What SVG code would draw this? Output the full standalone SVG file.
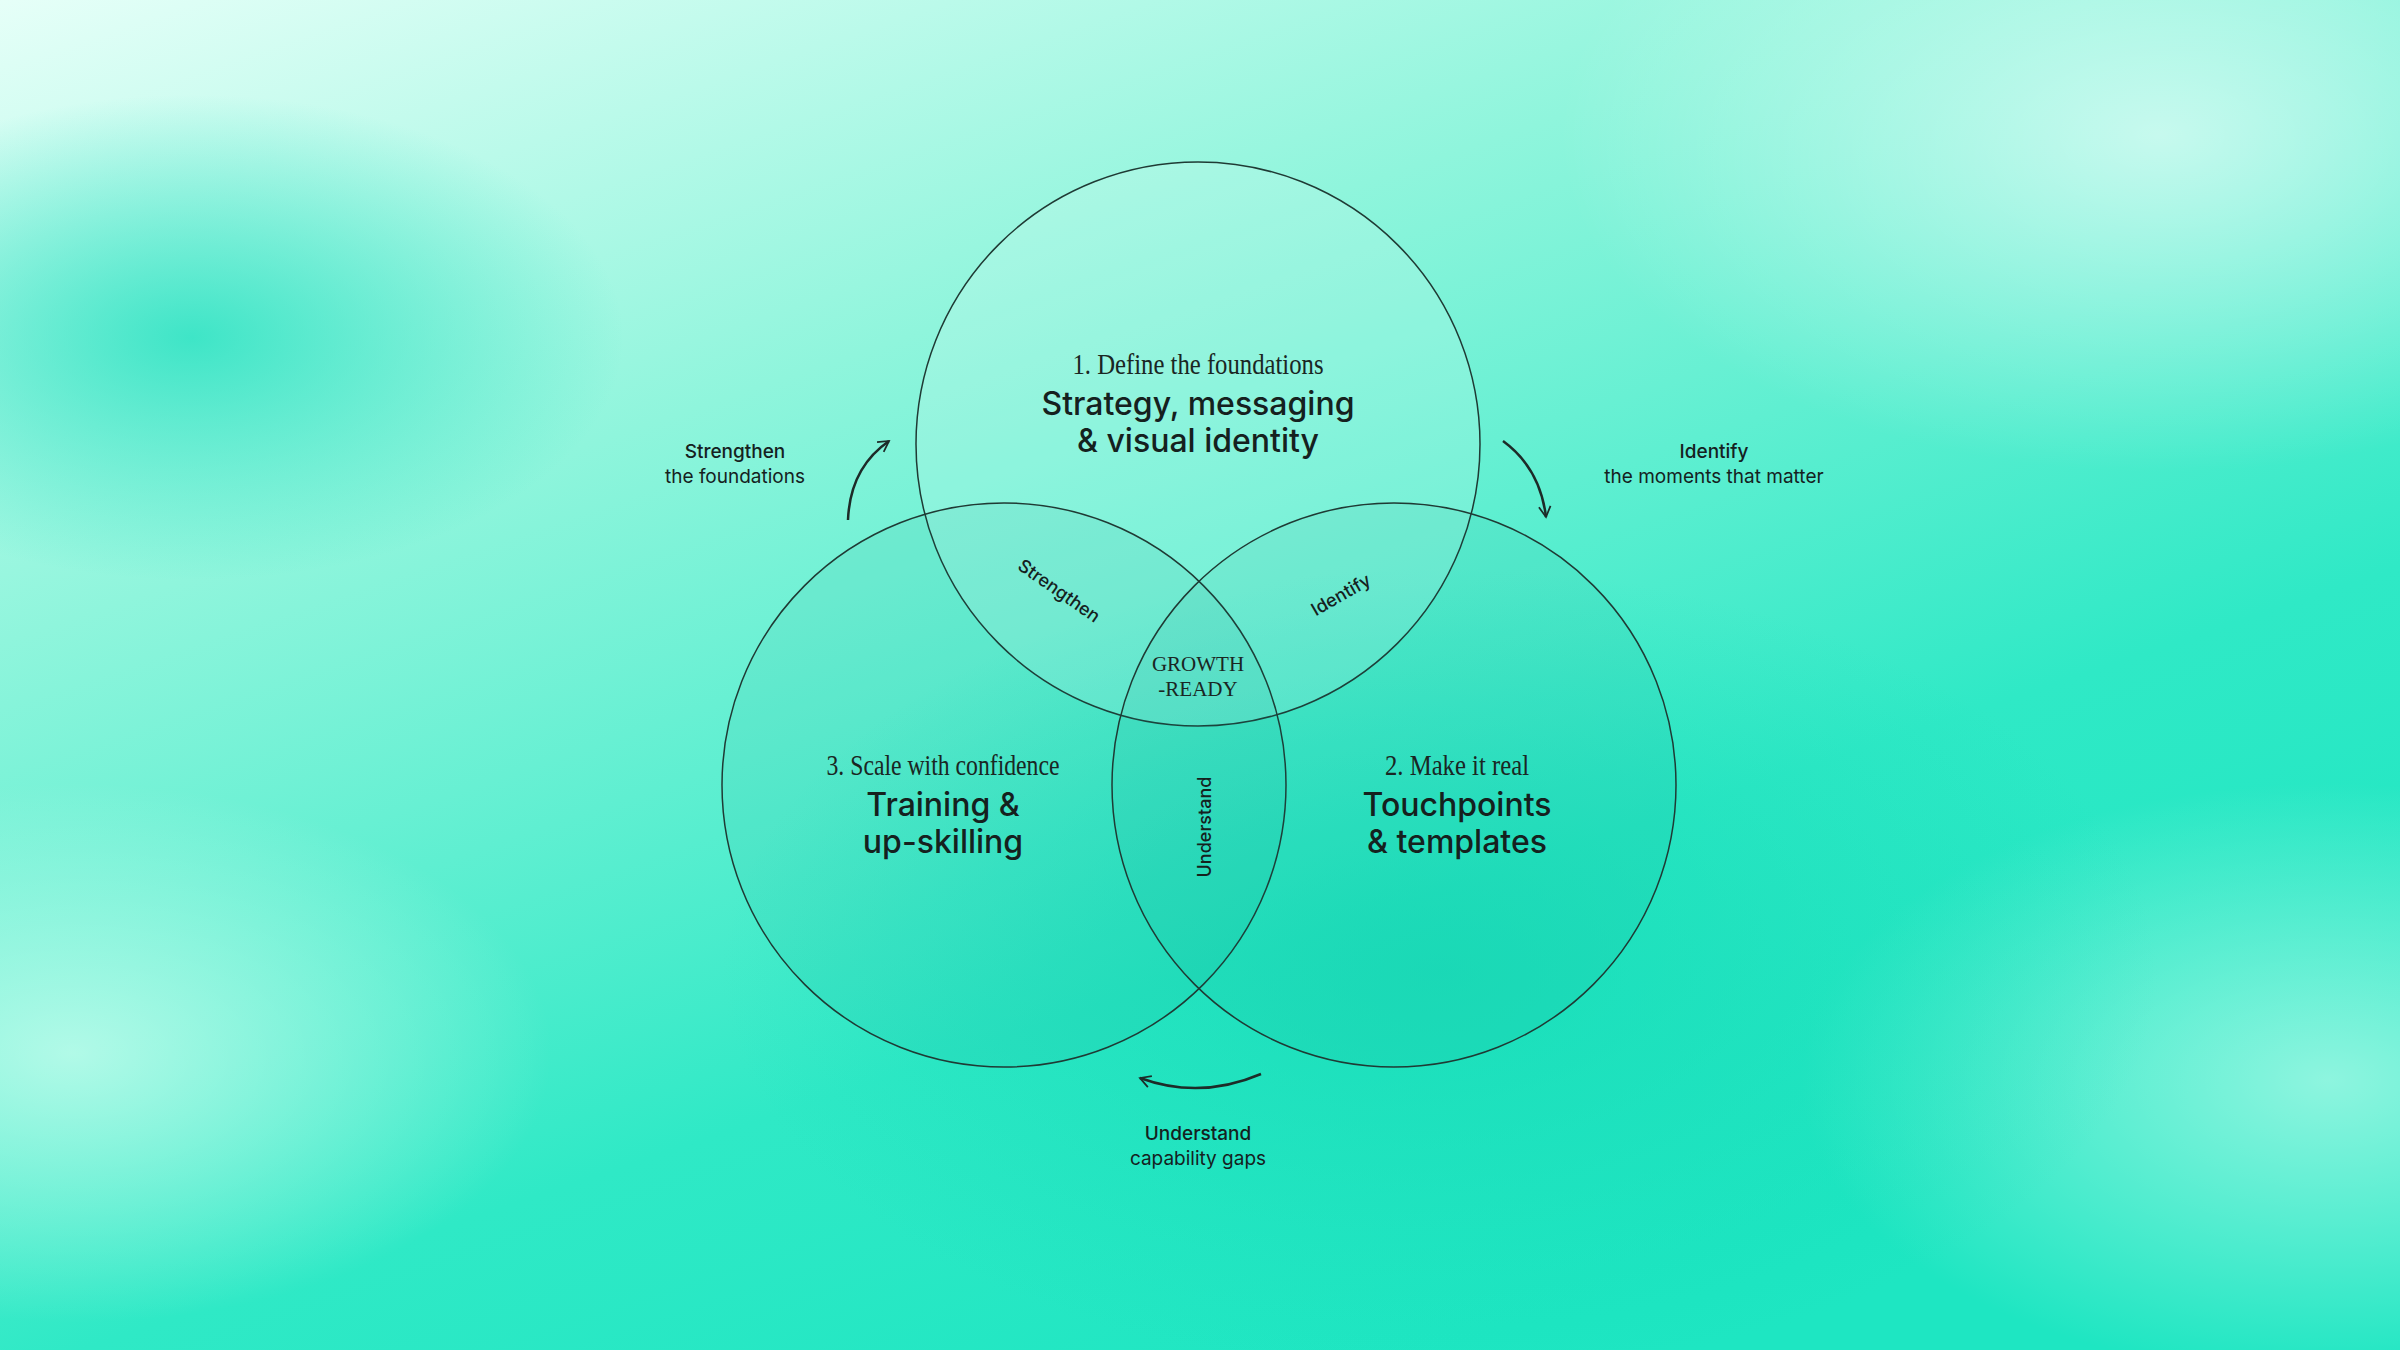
<svg xmlns="http://www.w3.org/2000/svg" width="2400" height="1350" viewBox="0 0 2400 1350">
<defs>
<linearGradient id="bg" x1="0" y1="0" x2="0.6" y2="1">
<stop offset="0" stop-color="#e6fff8"/><stop offset="0.35" stop-color="#8ff5dc"/><stop offset="0.75" stop-color="#2fe9c6"/><stop offset="1" stop-color="#1ee6c2"/>
</linearGradient>
<radialGradient id="g1" cx="0.08" cy="0.25" r="0.18"><stop offset="0" stop-color="#22e0bf" stop-opacity="0.8"/><stop offset="1" stop-color="#22e0bf" stop-opacity="0"/></radialGradient>
<radialGradient id="g2" cx="0.9" cy="0.1" r="0.25"><stop offset="0" stop-color="#ffffff" stop-opacity="0.6"/><stop offset="1" stop-color="#ffffff" stop-opacity="0"/></radialGradient>
<radialGradient id="g3" cx="0.03" cy="0.78" r="0.2"><stop offset="0" stop-color="#d8fff2" stop-opacity="0.7"/><stop offset="1" stop-color="#d8fff2" stop-opacity="0"/></radialGradient>
<radialGradient id="g4" cx="0.97" cy="0.8" r="0.22"><stop offset="0" stop-color="#d8fff2" stop-opacity="0.6"/><stop offset="1" stop-color="#d8fff2" stop-opacity="0"/></radialGradient>
<radialGradient id="g5" cx="0.6" cy="0.72" r="0.3"><stop offset="0" stop-color="#10d8b4" stop-opacity="0.6"/><stop offset="1" stop-color="#10d8b4" stop-opacity="0"/></radialGradient>
<marker id="ah" viewBox="0 0 12 12" refX="10" refY="6" markerWidth="14" markerHeight="14" markerUnits="userSpaceOnUse" orient="auto"><path d="M1,1 L10,6 L1,11" fill="none" stroke="#1d2b28" stroke-width="1.5"/></marker>
<style>
.c{fill:#0a8f7a;fill-opacity:0.07;stroke:#1f3a34;stroke-width:1.5}
.ser{font-family:"Liberation Serif",serif;fill:#1a2623}
.sb{font-family:"Inter","Liberation Sans",sans-serif;font-weight:500;fill:#15211e}
.sm{font-family:"Inter","Liberation Sans",sans-serif;fill:#15211e;font-size:19px}
.smb{font-family:"Inter","Liberation Sans",sans-serif;font-weight:500;fill:#15211e;font-size:18px}
.arr{fill:none;stroke:#1d2b28;stroke-width:2.5;marker-end:url(#ah)}
</style>
</defs>
<rect width="2400" height="1350" fill="url(#bg)"/>
<rect width="2400" height="1350" fill="url(#g1)"/>
<rect width="2400" height="1350" fill="url(#g2)"/>
<rect width="2400" height="1350" fill="url(#g3)"/>
<rect width="2400" height="1350" fill="url(#g4)"/>
<rect width="2400" height="1350" fill="url(#g5)"/>
<g id="top"><circle class="c" cx="1198" cy="444" r="282" style="fill:#ffffff;fill-opacity:0.15"/>
<text class="ser" x="1198" y="374" font-size="30" text-anchor="middle" textLength="251" lengthAdjust="spacingAndGlyphs">1.  Define the foundations</text>
<text class="sb" x="1198" y="415" font-size="32" text-anchor="middle">Strategy, messaging</text>
<text class="sb" x="1198" y="452" font-size="32" text-anchor="middle">&amp; visual identity</text></g>
<g id="left"><circle class="c" cx="1004" cy="785" r="282"/>
<text class="ser" x="943" y="775" font-size="30" text-anchor="middle" textLength="233" lengthAdjust="spacingAndGlyphs">3. Scale with confidence</text>
<text class="sb" x="943" y="816" font-size="32" text-anchor="middle">Training &amp;</text>
<text class="sb" x="943" y="853" font-size="32" text-anchor="middle">up-skilling</text></g>
<g id="right"><circle class="c" cx="1394" cy="785" r="282"/>
<text class="ser" x="1457" y="775" font-size="30" text-anchor="middle" textLength="144" lengthAdjust="spacingAndGlyphs">2. Make it real</text>
<text class="sb" x="1457" y="816" font-size="32" text-anchor="middle">Touchpoints</text>
<text class="sb" x="1457" y="853" font-size="32" text-anchor="middle">&amp; templates</text></g>
<g id="center">
<text class="ser" x="1198" y="671" font-size="21" text-anchor="middle">GROWTH</text>
<text class="ser" x="1198" y="696" font-size="21" text-anchor="middle">-READY</text>
<text class="smb" transform="translate(1059,591) rotate(35)" text-anchor="middle" dy="6">Strengthen</text>
<text class="smb" transform="translate(1341,595) rotate(-30)" text-anchor="middle" dy="6">Identify</text>
<text class="smb" transform="translate(1205,827) rotate(-90)" text-anchor="middle" dy="6">Understand</text>
</g>
<g id="labels">
<text class="sb" x="735" y="458" font-size="19" text-anchor="middle">Strengthen</text>
<text class="sm" x="735" y="483" text-anchor="middle">the foundations</text>
<text class="sb" x="1714" y="458" font-size="19" text-anchor="middle">Identify</text>
<text class="sm" x="1714" y="483" text-anchor="middle">the moments that matter</text>
<text class="sb" x="1198" y="1140" font-size="19" text-anchor="middle">Understand</text>
<text class="sm" x="1198" y="1165" text-anchor="middle">capability gaps</text>
</g>
<g id="connectors">
<path class="arr" d="M848,520 Q850,468 889,441"/>
<path class="arr" d="M1503,441 Q1540,468 1546,517"/>
<path class="arr" d="M1261,1074 Q1200,1100 1140,1078"/>
</g>
</svg>
